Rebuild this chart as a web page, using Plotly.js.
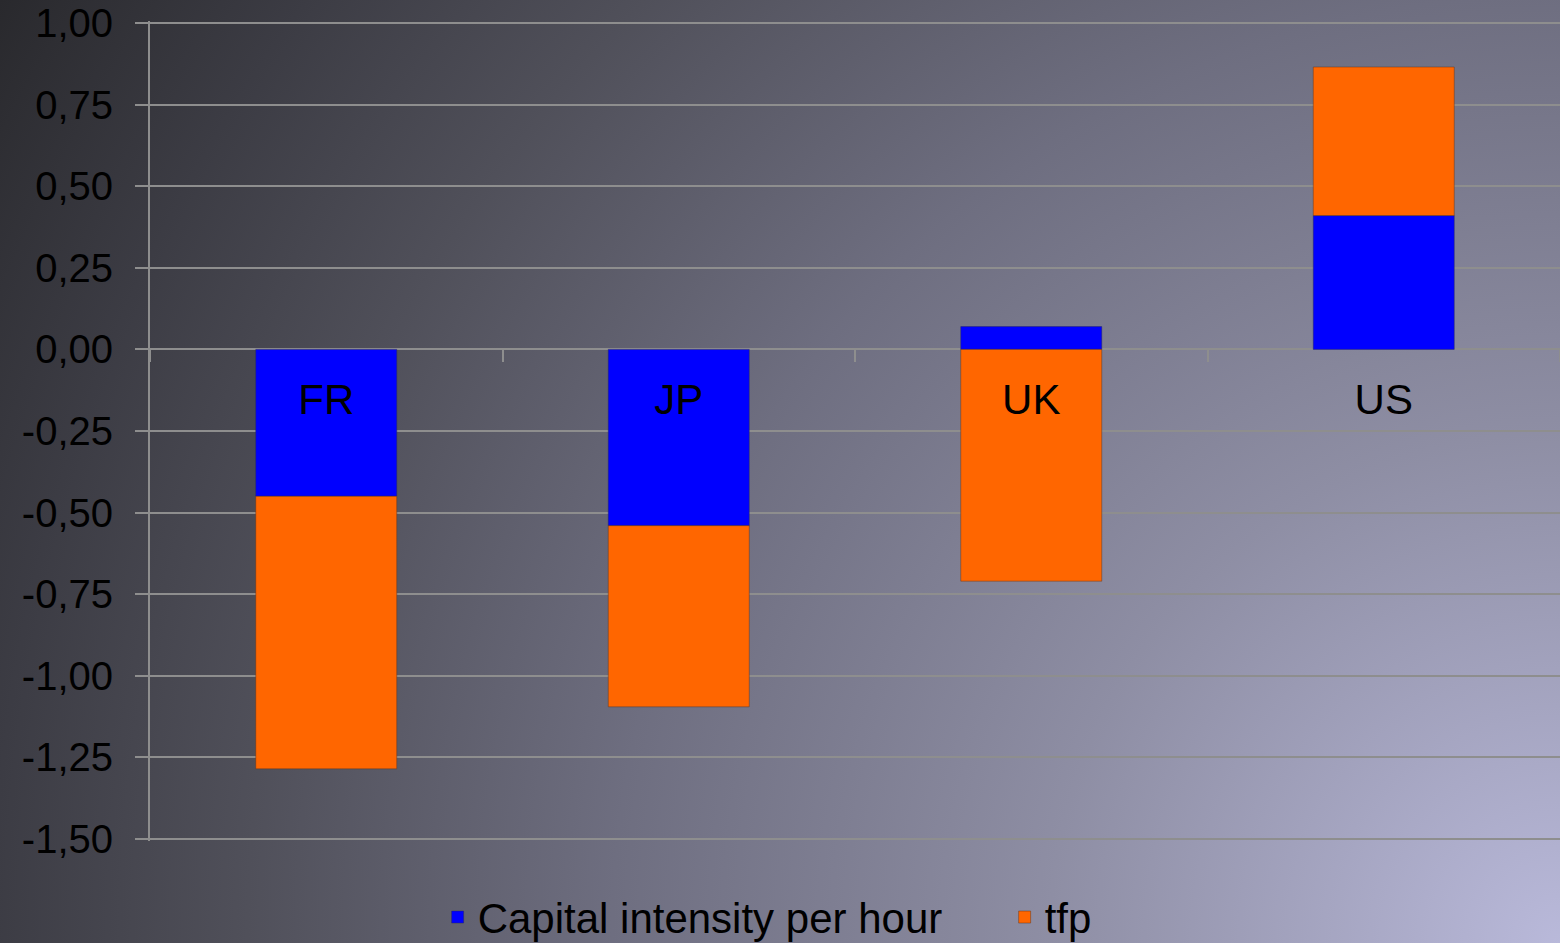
<!DOCTYPE html>
<html>
<head>
<meta charset="utf-8">
<script src="https://cdn.plot.ly/plotly-3.0.1.min.js"></script>
<style>
  html, body { margin: 0; padding: 0; width: 1560px; height: 943px; overflow: hidden; }
  body {
    background: radial-gradient(circle farthest-corner at 100% 100%,
      #b9b9da 0%, #8e8ea4 28%, #6e6e80 52%, #50505a 72%, #3c3c44 86%, #29292d 100%);
  }
  #chart { width: 1560px; height: 943px; }
</style>
</head>
<body>
<div id="chart"></div>
<script>
const categories = ['FR', 'JP', 'UK', 'US'];
const capitalIntensity = [-0.45, -0.54, 0.07, 0.41];
const tfp = [-0.835, -0.555, -0.71, 0.455];
const seriesNames = ['Capital intensity per hour', 'tfp'];
const yTickVals = [-1.5, -1.25, -1.0, -0.75, -0.5, -0.25, 0, 0.25, 0.5, 0.75, 1.0];
const yTickText = ['-1,50', '-1,25', '-1,00', '-0,75', '-0,50', '-0,25', '0,00', '0,25', '0,50', '0,75', '1,00'];

const gridCol = '#8e8e8e';
const fontFam = '"Liberation Sans", Arial, Helvetica, sans-serif';
const yMin = -1.506, yMax = 1.006;

const traces = [
  {
    type: 'bar', name: seriesNames[0], x: categories, y: capitalIntensity,
    width: 0.4,
    marker: { color: '#0000ff', line: { color: 'rgba(40,40,90,0.45)', width: 1 } },
    hoverinfo: 'x+y+name'
  },
  {
    type: 'bar', name: seriesNames[1], x: categories, y: tfp,
    width: 0.4,
    marker: { color: '#ff6600', line: { color: 'rgba(90,50,30,0.45)', width: 1 } },
    hoverinfo: 'x+y+name'
  }
];

const layout = {
  width: 1560, height: 943,
  paper_bgcolor: 'rgba(0,0,0,0)',
  plot_bgcolor: 'rgba(0,0,0,0)',
  barmode: 'relative',
  margin: { l: 150, r: 0, t: 21, b: 102, autoexpand: false },
  font: { family: fontFam, color: '#000000' },
  xaxis: {
    type: 'category',
    range: [-0.5, 3.5],
    anchor: 'free',
    position: (0 - yMin) / (yMax - yMin),
    showgrid: false,
    showline: false,
    zeroline: false,
    ticks: 'outside',
    tickson: 'boundaries',
    ticklen: 12,
    tickwidth: 2,
    tickcolor: gridCol,
    ticklabelstandoff: 22,
    tickfont: { size: 42, color: '#000000', family: fontFam }
  },
  yaxis: {
    range: [yMin, yMax],
    tickvals: yTickVals,
    ticktext: yTickText,
    showgrid: true,
    gridcolor: gridCol,
    gridwidth: 2,
    zeroline: true,
    zerolinecolor: gridCol,
    zerolinewidth: 2,
    showline: true,
    linecolor: gridCol,
    linewidth: 2,
    ticks: 'outside',
    ticklen: 13,
    tickwidth: 2,
    tickcolor: gridCol,
    ticklabelstandoff: 14,
    ticklabeloverflow: 'allow',
    tickfont: { size: 40, color: '#000000', family: fontFam }
  },
  showlegend: true,
  legend: {
    orientation: 'h',
    x: 0.204, xanchor: 'left',
    y: -0.093, yanchor: 'middle',
    bgcolor: 'rgba(0,0,0,0)',
    font: { size: 42, color: '#000000', family: fontFam },
    traceorder: 'normal',
    itemwidth: 30,
    entrywidth: 522,
    entrywidthmode: 'pixels'
  }
};

Plotly.newPlot('chart', traces, layout, { displayModeBar: false });
</script>
</body>
</html>
